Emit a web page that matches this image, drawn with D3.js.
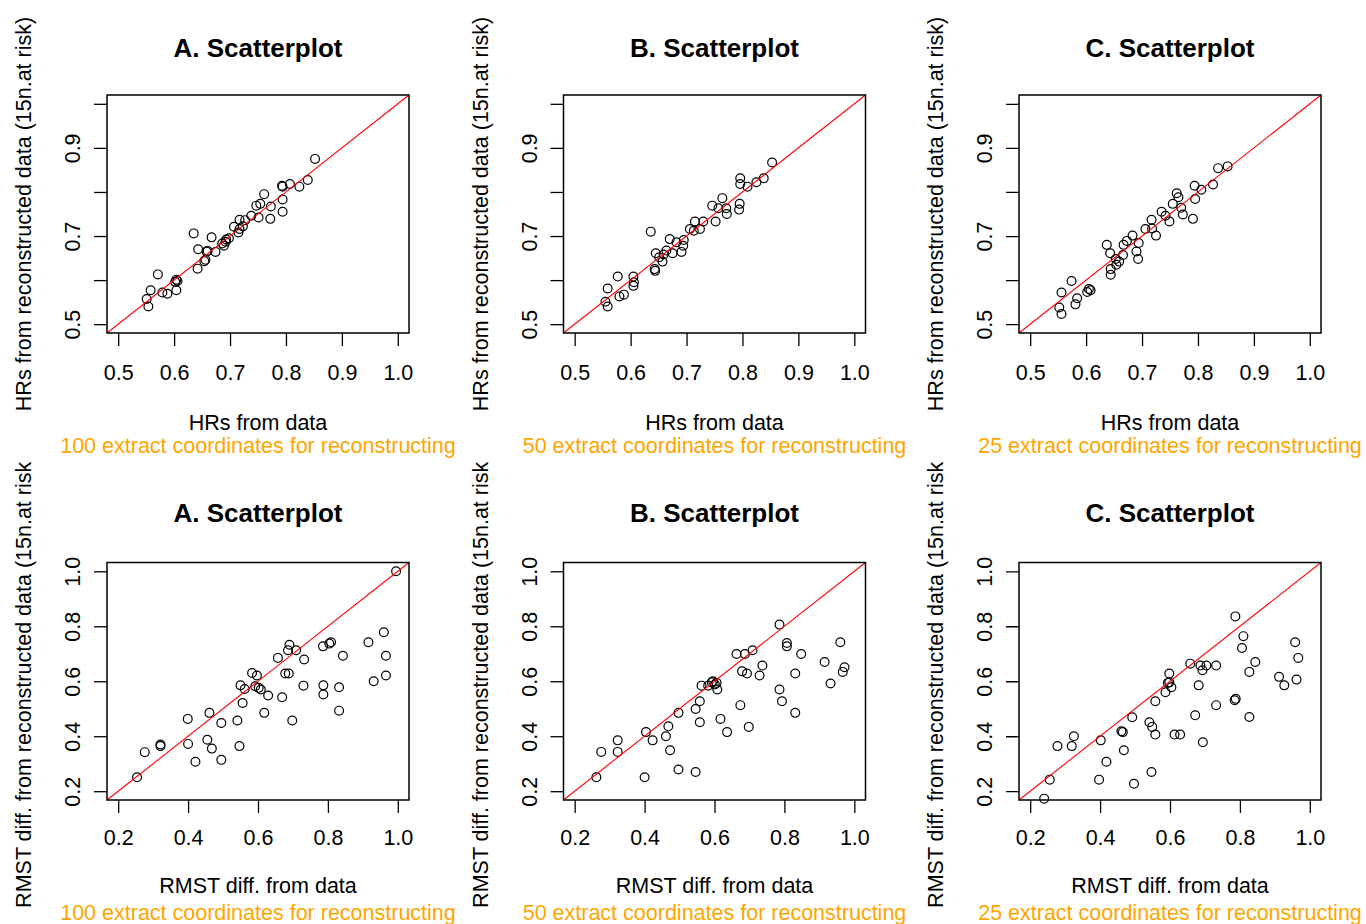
<!DOCTYPE html>
<html>
<head>
<meta charset="utf-8">
<script src="https://cdn.jsdelivr.net/npm/d3@7"></script>
<style>
  html, body { margin: 0; padding: 0; background: #fff; }
  svg { display: block; font-family: "Liberation Sans", Arial, sans-serif; }
</style>
</head>
<body>
<div id="app"></div>
<script>
// ---- data ----
const panelTitles = ['A. Scatterplot', 'B. Scatterplot', 'C. Scatterplot']
const subTitles = ['100 extract coordinates for reconstructing', '50 extract coordinates for reconstructing', '25 extract coordinates for reconstructing']
const hrXLabel = 'HRs from data'
const hrYLabel = 'HRs from reconstructed data (15n.at risk)'
const rmstXLabel = 'RMST diff. from data'
const rmstYLabel = 'RMST diff. from reconstructed data (15n.at risk)'

const hrDomain = [0.48, 1.02]
const hrTicks = [0.5, 0.6, 0.7, 0.8, 0.9, 1.0]
const hrYTickLabels = [0.5, 0.7, 0.9] // R drops the overlapping ones
const rmstDomain = [0.168, 1.032]
const rmstTicks = [0.2, 0.4, 0.6, 0.8, 1.0]

// HRs, 100 coordinates
const hrX100 = [0.852, 0.839, 0.824, 0.807, 0.794, 0.793, 0.794, 0.794, 0.772, 0.773, 0.761, 0.754, 0.747, 0.751, 0.738, 0.727, 0.717, 0.707, 0.715, 0.723, 0.693, 0.692, 0.689, 0.686, 0.667, 0.635, 0.643, 0.658, 0.656, 0.654, 0.674, 0.642, 0.604, 0.606, 0.602, 0.604, 0.571, 0.558, 0.579, 0.588, 0.551, 0.554, 0.698, 0.660, 0.717]
const hrY100 = [0.875, 0.827, 0.812, 0.818, 0.812, 0.814, 0.783, 0.755, 0.739, 0.767, 0.795, 0.773, 0.769, 0.742, 0.746, 0.736, 0.737, 0.721, 0.708, 0.722, 0.692, 0.687, 0.678, 0.683, 0.697, 0.706, 0.670, 0.665, 0.646, 0.643, 0.664, 0.626, 0.601, 0.598, 0.596, 0.577, 0.613, 0.577, 0.572, 0.569, 0.557, 0.540, 0.695, 0.666, 0.716]
// HRs, 50 coordinates
const hrX50 = [0.853, 0.838, 0.825, 0.809, 0.796, 0.796, 0.795, 0.794, 0.764, 0.746, 0.757, 0.771, 0.772, 0.752, 0.730, 0.715, 0.706, 0.724, 0.713, 0.636, 0.670, 0.695, 0.694, 0.691, 0.675, 0.664, 0.659, 0.645, 0.657, 0.644, 0.643, 0.605, 0.606, 0.605, 0.577, 0.559, 0.580, 0.588, 0.555, 0.559, 0.682, 0.651]
const hrY50 = [0.867, 0.831, 0.822, 0.812, 0.831, 0.818, 0.773, 0.760, 0.786, 0.769, 0.763, 0.763, 0.750, 0.733, 0.733, 0.733, 0.716, 0.716, 0.712, 0.710, 0.693, 0.691, 0.678, 0.664, 0.661, 0.667, 0.658, 0.661, 0.642, 0.621, 0.625, 0.608, 0.595, 0.587, 0.608, 0.581, 0.563, 0.567, 0.551, 0.540, 0.686, 0.652]
// HRs, 25 coordinates
const hrX25 = [0.853, 0.836, 0.827, 0.794, 0.806, 0.795, 0.791, 0.762, 0.765, 0.755, 0.770, 0.773, 0.749, 0.735, 0.717, 0.706, 0.718, 0.725, 0.683, 0.673, 0.667, 0.637, 0.694, 0.690, 0.693, 0.666, 0.653, 0.659, 0.643, 0.654, 0.644, 0.644, 0.605, 0.608, 0.602, 0.574, 0.556, 0.584, 0.581, 0.552, 0.556, 0.742]
const hrY25 = [0.858, 0.854, 0.817, 0.814, 0.805, 0.784, 0.739, 0.797, 0.788, 0.773, 0.764, 0.749, 0.733, 0.755, 0.737, 0.716, 0.717, 0.701, 0.701, 0.689, 0.680, 0.680, 0.684, 0.665, 0.648, 0.657, 0.648, 0.642, 0.661, 0.635, 0.625, 0.612, 0.580, 0.577, 0.573, 0.598, 0.572, 0.559, 0.545, 0.538, 0.523, 0.746]

// RMST diff., 100 coordinates
const rmstX100 = [0.995, 0.254, 0.276, 0.321, 0.321, 0.399, 0.400, 0.421, 0.461, 0.455, 0.468, 0.495, 0.495, 0.541, 0.547, 0.550, 0.556, 0.562, 0.583, 0.597, 0.592, 0.602, 0.608, 0.629, 0.618, 0.657, 0.669, 0.678, 0.688, 0.686, 0.690, 0.709, 0.698, 0.732, 0.730, 0.786, 0.804, 0.809, 0.843, 0.787, 0.787, 0.832, 0.832, 0.916, 0.960, 0.966, 0.966, 0.931]
const rmstY100 = [1.000, 0.251, 0.342, 0.370, 0.364, 0.463, 0.372, 0.307, 0.485, 0.387, 0.355, 0.448, 0.314, 0.457, 0.364, 0.585, 0.521, 0.572, 0.630, 0.621, 0.582, 0.576, 0.570, 0.548, 0.485, 0.685, 0.542, 0.628, 0.628, 0.713, 0.733, 0.713, 0.457, 0.679, 0.584, 0.727, 0.737, 0.742, 0.693, 0.585, 0.552, 0.578, 0.493, 0.742, 0.778, 0.693, 0.621, 0.600]
// RMST diff., 50 coordinates
const rmstX50 = [0.262, 0.276, 0.323, 0.323, 0.400, 0.404, 0.423, 0.461, 0.468, 0.473, 0.497, 0.497, 0.546, 0.546, 0.558, 0.558, 0.563, 0.582, 0.592, 0.596, 0.601, 0.608, 0.617, 0.636, 0.663, 0.674, 0.687, 0.709, 0.679, 0.693, 0.698, 0.729, 0.737, 0.786, 0.807, 0.807, 0.848, 0.831, 0.786, 0.793, 0.831, 0.915, 0.932, 0.960, 0.967, 0.972, 0.606]
const rmstY50 = [0.251, 0.343, 0.385, 0.343, 0.251, 0.415, 0.385, 0.400, 0.436, 0.349, 0.279, 0.485, 0.270, 0.499, 0.527, 0.451, 0.584, 0.584, 0.596, 0.600, 0.588, 0.570, 0.463, 0.415, 0.699, 0.513, 0.699, 0.713, 0.636, 0.628, 0.434, 0.621, 0.657, 0.806, 0.739, 0.727, 0.699, 0.628, 0.570, 0.527, 0.485, 0.670, 0.592, 0.742, 0.634, 0.651, 0.594]
// RMST diff., 25 coordinates
const rmstX25 = [0.240, 0.256, 0.278, 0.319, 0.325, 0.397, 0.402, 0.418, 0.461, 0.465, 0.468, 0.492, 0.497, 0.541, 0.549, 0.547, 0.558, 0.558, 0.587, 0.594, 0.598, 0.598, 0.604, 0.613, 0.629, 0.658, 0.672, 0.682, 0.687, 0.693, 0.704, 0.694, 0.732, 0.732, 0.787, 0.785, 0.788, 0.810, 0.806, 0.844, 0.827, 0.827, 0.912, 0.927, 0.958, 0.967, 0.962]
const rmstY25 = [0.173, 0.242, 0.364, 0.364, 0.400, 0.242, 0.385, 0.307, 0.418, 0.415, 0.349, 0.469, 0.227, 0.451, 0.434, 0.270, 0.406, 0.527, 0.560, 0.594, 0.628, 0.596, 0.578, 0.406, 0.406, 0.664, 0.476, 0.585, 0.657, 0.640, 0.657, 0.378, 0.657, 0.513, 0.836, 0.531, 0.536, 0.764, 0.721, 0.670, 0.634, 0.470, 0.616, 0.585, 0.742, 0.685, 0.606]

// ---- layout ----
const _config = {
  width: 1366,
  height: 924,
  colW: 1366 / 3,
  rowH: 462,
  boxX: [107, 563.5, 1019], // left edge of each plot box
  boxW: 302,
  rows: [
    { top: 95, bottom: 333, title: 57, tickText: 380, xlab: 430, sub: 453 },
    { top: 562.5, bottom: 800, title: 522, tickText: 845, xlab: 893, sub: 920 },
  ],
  tickSize: 13,
  fontSize: 21.5,
  titleSize: 26,
}

const svg = d3.select('#app')
  .append('svg')
  .attr('width', _config.width)
  .attr('height', _config.height)

function panel(row, col, opt) {
  const r = _config.rows[row]
  const left = _config.boxX[col]
  const right = left + _config.boxW

  // R clips every figure to its own region
  const clipId = `fig-${row}-${col}`
  svg.append('clipPath')
    .attr('id', clipId)
    .append('rect')
    .attr('x', col * _config.colW)
    .attr('y', row * _config.rowH)
    .attr('width', _config.colW)
    .attr('height', _config.rowH)
  const g = svg.append('g').attr('clip-path', `url(#${clipId})`)

  const x = d3.scaleLinear().domain(opt.domain).range([left, right])
  const y = d3.scaleLinear().domain(opt.domain).range([r.bottom, r.top])

  // x axis
  const gx = g.append('g')
    .attr('transform', `translate(0, ${r.bottom})`)
    .call(d3.axisBottom(x).tickValues(opt.ticks).tickSize(_config.tickSize).tickFormat(d3.format('.1f')))
  gx.select('.domain').remove()
  gx.selectAll('line').attr('stroke', '#000').attr('stroke-width', 1.3)
  gx.selectAll('text')
    .attr('y', r.tickText - r.bottom)
    .attr('dy', null)
    .attr('fill', '#000')
    .attr('font-size', _config.fontSize)
    .attr('font-family', 'Liberation Sans, Arial, sans-serif')

  // y axis, labels turned like R's las = 0
  const gy = g.append('g')
    .attr('transform', `translate(${left}, 0)`)
    .call(d3.axisLeft(y).tickValues(opt.ticks).tickSize(_config.tickSize)
      .tickFormat(d => (opt.yLabels ? opt.yLabels.includes(d) : true) ? d3.format('.1f')(d) : ''))
  gy.select('.domain').remove()
  gy.selectAll('line').attr('stroke', '#000').attr('stroke-width', 1.3)
  gy.selectAll('text')
    .attr('x', null)
    .attr('dy', null)
    .attr('transform', 'translate(-27, 0) rotate(-90)')
    .attr('text-anchor', 'middle')
    .attr('fill', '#000')
    .attr('font-size', _config.fontSize)
    .attr('font-family', 'Liberation Sans, Arial, sans-serif')

  // points
  g.append('g')
    .selectAll('circle')
    .data(opt.xs.map((d, i) => [d, opt.ys[i]]))
    .enter()
    .append('circle')
    .attr('cx', d => x(d[0]))
    .attr('cy', d => y(d[1]))
    .attr('r', 4.4)
    .attr('fill', 'none')
    .attr('stroke', '#000')
    .attr('stroke-width', 1.2)

  // abline(0, 1)
  g.append('line')
    .attr('x1', x(opt.domain[0]))
    .attr('y1', y(opt.domain[0]))
    .attr('x2', x(opt.domain[1]))
    .attr('y2', y(opt.domain[1]))
    .attr('stroke', 'red')
    .attr('stroke-width', 1.1)

  // box
  g.append('rect')
    .attr('x', left)
    .attr('y', r.top)
    .attr('width', _config.boxW)
    .attr('height', r.bottom - r.top)
    .attr('fill', 'none')
    .attr('stroke', '#000')
    .attr('stroke-width', 1.5)

  const cx = (left + right) / 2
  g.append('text')
    .attr('x', cx)
    .attr('y', r.title)
    .attr('text-anchor', 'middle')
    .attr('font-weight', 'bold')
    .attr('font-size', _config.titleSize)
    .text(panelTitles[col])
  g.append('text')
    .attr('x', cx)
    .attr('y', r.xlab)
    .attr('text-anchor', 'middle')
    .attr('font-size', _config.fontSize)
    .text(opt.xLabel)
  g.append('text')
    .attr('x', cx)
    .attr('y', r.sub)
    .attr('text-anchor', 'middle')
    .attr('font-size', _config.fontSize)
    .attr('fill', 'orange')
    .text(subTitles[col])
  g.append('text')
    .attr('transform', `translate(${left - 76}, ${(r.top + r.bottom) / 2}) rotate(-90)`)
    .attr('text-anchor', 'middle')
    .attr('font-size', _config.fontSize)
    .text(opt.yLabel)
}

const hrSets = [[hrX100, hrY100], [hrX50, hrY50], [hrX25, hrY25]]
const rmstSets = [[rmstX100, rmstY100], [rmstX50, rmstY50], [rmstX25, rmstY25]]

hrSets.forEach((s, i) => panel(0, i, {
  xs: s[0], ys: s[1], domain: hrDomain, ticks: hrTicks, yLabels: hrYTickLabels,
  xLabel: hrXLabel, yLabel: hrYLabel,
}))
rmstSets.forEach((s, i) => panel(1, i, {
  xs: s[0], ys: s[1], domain: rmstDomain, ticks: rmstTicks,
  xLabel: rmstXLabel, yLabel: rmstYLabel,
}))
</script>
</body>
</html>
